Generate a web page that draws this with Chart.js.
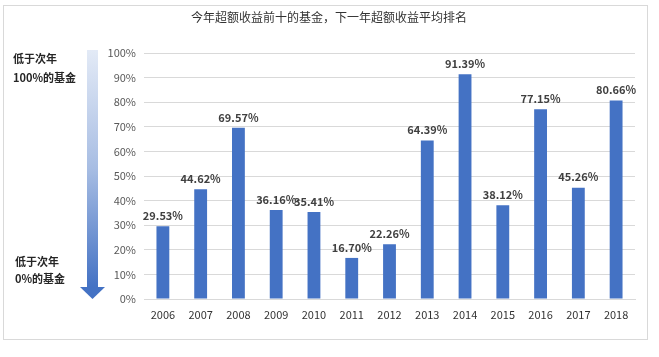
<!DOCTYPE html>
<html><head><meta charset="utf-8">
<script src="https://cdn.jsdelivr.net/npm/chart.js@4/dist/chart.umd.min.js"></script>
<style>html,body{margin:0;padding:0;background:#fff}#w{width:659px;height:357px;position:relative}</style>
</head><body><div id="w"><canvas id="c"></canvas></div>
<script>
const years = ['2006','2007','2008','2009','2010','2011','2012','2013','2014','2015','2016','2017','2018'];
const avgRank = [29.53,44.62,69.57,36.16,35.41,16.70,22.26,64.39,91.39,38.12,77.15,45.26,80.66];
const titleText = '今年超额收益前十的基金，下一年超额收益平均排名';
const topNote = ['低于次年','100%的基金'];
const bottomNote = ['低于次年','0%的基金'];
const FONT = '"Noto Sans CJK SC", "Noto Sans", sans-serif';

const deco = {
  id:'deco',
  beforeDraw(chart){
    const ctx = chart.ctx;
    ctx.save();
    ctx.fillStyle='#fff'; ctx.fillRect(0,0,chart.width,chart.height);
    ctx.strokeStyle='#d9d9d9'; ctx.lineWidth=1;
    ctx.strokeRect(3.5,5.5,644,334);
    ctx.restore();
  },
  afterDraw(chart){
    const ctx = chart.ctx;
    const y = chart.scales.y;
    ctx.save();
    ctx.fillStyle='#333'; ctx.font='12px '+FONT; ctx.textAlign='center'; ctx.textBaseline='middle';
    ctx.fillText(titleText, 329, 17);
    const top = y.getPixelForValue(100)-3, headTop = y.getPixelForValue(0)-12, tip = y.getPixelForValue(0);
    const g = ctx.createLinearGradient(0,top,0,headTop);
    g.addColorStop(0,'#e3eaf6'); g.addColorStop(0.5,'#a7bde3'); g.addColorStop(1,'#4472c4');
    ctx.fillStyle=g;
    ctx.fillRect(87,top,11,headTop-top);
    ctx.fillStyle='#4472c4';
    ctx.beginPath(); ctx.moveTo(80,headTop); ctx.lineTo(105,headTop); ctx.lineTo(92.5,tip); ctx.closePath(); ctx.fill();
    ctx.fillStyle='#262626'; ctx.font='bold 11px '+FONT; ctx.textAlign='left';
    ctx.fillText(topNote[0],13,59); ctx.fillText(topNote[1],13,78);
    ctx.fillText(bottomNote[0],15,262); ctx.fillText(bottomNote[1],15,279);
    const meta = chart.getDatasetMeta(0);
    ctx.font='bold 11px '+FONT; ctx.textAlign='center'; ctx.textBaseline='bottom'; ctx.fillStyle='#404040';
    meta.data.forEach((b,i)=>{ ctx.fillText(avgRank[i].toFixed(2)+'%', b.x, b.y-5); });
    ctx.restore();
  }
};

new Chart(document.getElementById('c'),{
  type:'bar',
  data:{labels:years,datasets:[{data:avgRank,backgroundColor:'#4472c4',barPercentage:0.34,categoryPercentage:1}]},
  options:{
    responsive:true,maintainAspectRatio:false,animation:false,
    devicePixelRatio:1,
    layout:{padding:{left:0,right:24,top:53,bottom:36}},
    plugins:{legend:{display:false},title:{display:false},tooltip:{enabled:false}},
    scales:{
      x:{grid:{display:false},border:{color:'#d9d9d9'},afterFit(s){s.height=22;},
         ticks:{color:'#333',font:{family:FONT,size:11},padding:1}},
      y:{min:0,max:100,afterFit(s){s.width=144;},
         grid:{color:'#d9d9d9',drawTicks:false},border:{display:false},
         ticks:{stepSize:10,padding:8,color:'#595959',font:{family:FONT,size:11},callback:v=>v+'%'}}
    }
  },
  plugins:[deco]
});
</script></body></html>
